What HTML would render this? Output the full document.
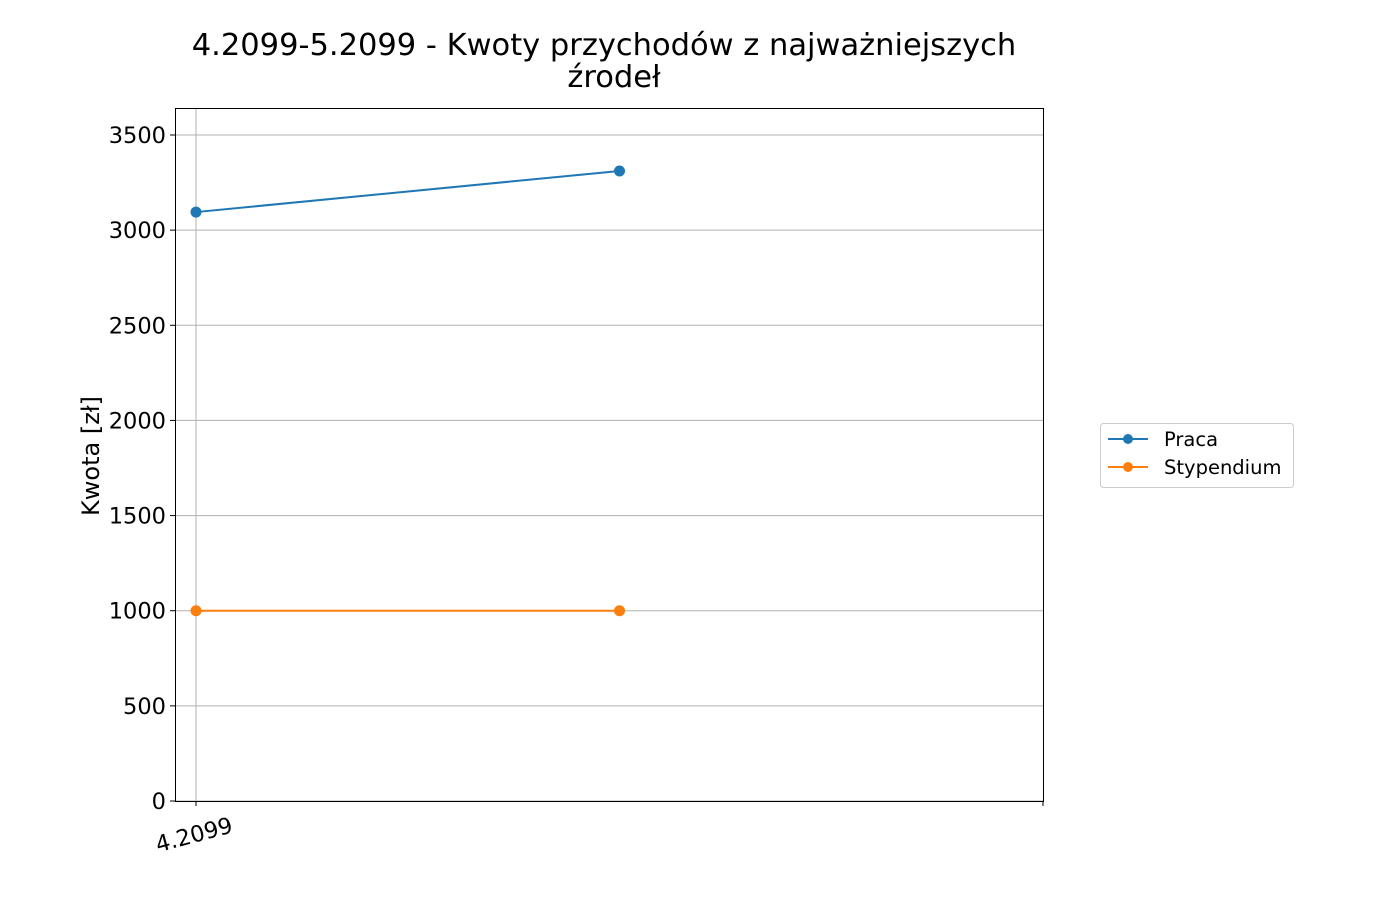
<!DOCTYPE html>
<html><head><meta charset="utf-8"><style>
body{margin:0;background:#fff;}
svg{display:block;font-family:"DejaVu Sans","Liberation Sans",sans-serif;}
</style></head><body>
<svg id="chart" width="1400" height="900">
<text x="604" y="55" font-size="30.5" text-anchor="middle">4.2099-5.2099 - Kwoty przychodów z najważniejszych</text>
<text x="614" y="87" font-size="30.5" text-anchor="middle">źrodeł</text>
<text transform="translate(99,456) rotate(-90)" font-size="24" text-anchor="middle">Kwota [zł]</text>
<g id="grid"></g><g id="series"></g><g id="axes"></g>
<g>
<rect x="1100.5" y="423.5" width="193" height="64" rx="3" fill="#fff" stroke="#ccc"/>
<line x1="1108" y1="439" x2="1148" y2="439" stroke="#1f77b4" stroke-width="2"/><circle cx="1128" cy="439" r="5" fill="#1f77b4"/>
<text x="1164" y="446" font-size="19.5">Praca</text>
<line x1="1108" y1="467" x2="1148" y2="467" stroke="#ff7f0e" stroke-width="2"/><circle cx="1128" cy="467" r="5" fill="#ff7f0e"/>
<text x="1164" y="474" font-size="19.5">Stypendium</text>
</g>
</svg>
<script>
const categories=["4.2099","5.2099",""];
const praca=[3095,3311];
const stypendium=[1000,1000];
const yTicks=[0,500,1000,1500,2000,2500,3000,3500];
const NS="http://www.w3.org/2000/svg";
const L=175,R=1043,T=108,B=801;
const y=v=>B-(v/3500)*(B-135);
const x=i=>196+i*423.5;
function mk(t,a,p){const e=document.createElementNS(NS,t);for(const k in a)e.setAttribute(k,a[k]);p.appendChild(e);return e;}
const grid=document.getElementById('grid'),ser=document.getElementById('series'),ax=document.getElementById('axes');
yTicks.forEach(v=>{
 const g=mk('line',{x1:L,x2:R,y1:y(v),y2:y(v),stroke:'#b0b0b0','stroke-width':1},grid);
 
 
 mk('line',{x1:L-5,x2:L,y1:y(v),y2:y(v),stroke:'#000'},ax);
 const t=mk('text',{x:L-9,y:y(v)+8,'font-size':22.5,'text-anchor':'end'},ax);t.textContent=v;
 
 
});
mk('line',{x1:x(0),x2:x(0),y1:T,y2:B,stroke:'#b0b0b0'},grid);
[0,2].forEach(i=>{mk('line',{x1:i==2?R:x(i),x2:i==2?R:x(i),y1:B,y2:B+5,stroke:'#000'},ax);});
const xl=mk('text',{x:0,y:0,'font-size':22.5,'text-anchor':'end',transform:`translate(${x(0)+38},${B+31}) rotate(-15)`},ax);
xl.textContent=categories[0];


const fr=mk('rect',{x:L+.5,y:T+.5,width:R-L,height:B-T,fill:'none',stroke:'#000'},ax);


[[praca,'#1f77b4','praca'],[stypendium,'#ff7f0e','stypendium']].forEach(([d,c,n])=>{
 const pl=mk('polyline',{points:d.map((v,i)=>x(i)+','+y(v)).join(' '),fill:'none',stroke:c,'stroke-width':2},ser);
 
 
 d.forEach((v,i)=>{const p=mk('circle',{cx:x(i),cy:y(v),r:5.5,fill:c},ser);
  
  });
});
</script>
</body></html>
